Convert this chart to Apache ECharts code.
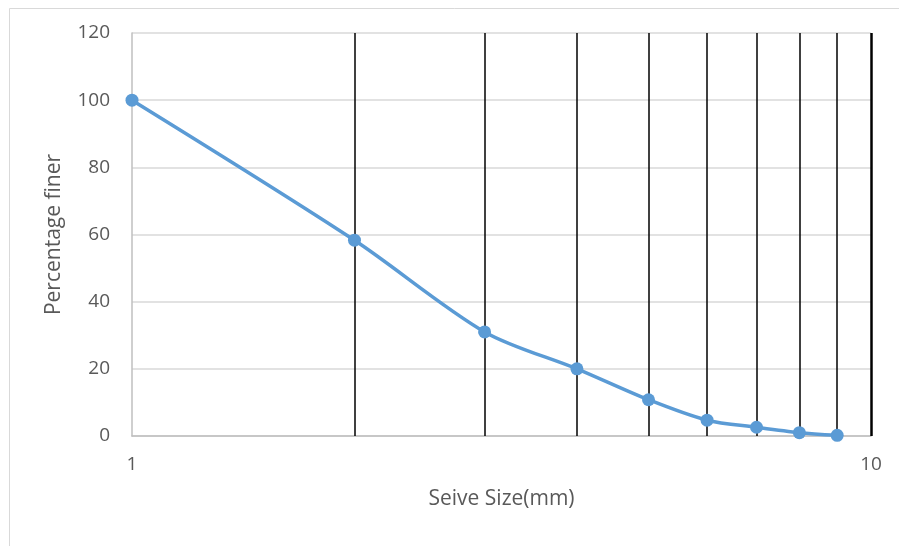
<!DOCTYPE html>
<html>
<head>
<meta charset="utf-8">
<style>
  html, body { margin: 0; padding: 0; background: #ffffff; }
  #chart { width: 899px; height: 546px; }
</style>
<script src="https://cdn.jsdelivr.net/npm/echarts@6/dist/echarts.min.js"></script>
</head>
<body>
<div id="chart"></div>
<script>
// Sieve analysis: particle size (mm, log scale) vs. percentage finer
const sieveSizes = [1, 2, 3, 4, 5, 6, 7, 8, 9];
const percentFiner = [100, 58.3, 31.0, 20.0, 10.8, 4.7, 2.6, 1.0, 0.2];
// Vertical reference lines at each whole millimetre on the log axis
const gridSizes = [2, 3, 4, 5, 6, 7, 8, 9, 10];

const textColor = '#595959';
const fontFamily = '"Open Sans", "Liberation Sans", sans-serif';

const chart = echarts.init(document.getElementById('chart'));

chart.setOption({
  animation: false,
  backgroundColor: '#ffffff',
  graphic: [{
    type: 'rect',
    left: 7, top: 6,
    shape: { width: 1000, height: 700 },
    style: { fill: 'none', stroke: '#d9d9d9', lineWidth: 1 },
    silent: true,
    z: -1
  }],
  grid: { left: 132, right: 28, top: 33, bottom: 110 },
  xAxis: {
    type: 'log',
    logBase: 10,
    min: 1,
    max: 10,
    name: 'Seive Size(mm)',
    nameLocation: 'middle',
    nameGap: 53,
    nameTextStyle: { color: textColor, fontSize: 21, fontFamily: fontFamily },
    axisLine: { show: true, lineStyle: { color: '#bfbfbf', width: 1.5 } },
    axisTick: { show: false },
    axisLabel: { color: textColor, fontSize: 19, fontFamily: fontFamily, margin: 19 },
    splitLine: { show: false },
    minorTick: { show: false },
    minorSplitLine: { show: false }
  },
  yAxis: {
    type: 'value',
    min: 0,
    max: 120,
    interval: 20,
    name: 'Percentage finer',
    nameLocation: 'middle',
    nameGap: 67,
    nameTextStyle: { color: textColor, fontSize: 21, fontFamily: fontFamily },
    axisLine: { show: true, lineStyle: { color: '#bfbfbf', width: 1.5 } },
    axisTick: { show: false },
    axisLabel: { color: textColor, fontSize: 19, fontFamily: fontFamily, margin: 22 },
    splitLine: { show: true, lineStyle: { color: '#d9d9d9', width: 1.5 } }
  },
  series: [{
    type: 'line',
    data: sieveSizes.map((s, i) => [s, percentFiner[i]]),
    smooth: 0.3,
    symbol: 'circle',
    symbolSize: 13,
    lineStyle: { color: '#5b9bd5', width: 3.5 },
    itemStyle: { color: '#5b9bd5' },
    z: 5,
    markLine: {
      silent: true,
      symbol: 'none',
      label: { show: false },
      lineStyle: { type: 'solid', color: '#000000', width: 1.5 },
      data: gridSizes.map(s => ({
        xAxis: s,
        lineStyle: { width: s === 10 ? 2.5 : 1.5 }
      }))
    }
  }]
});
</script>
</body>
</html>
